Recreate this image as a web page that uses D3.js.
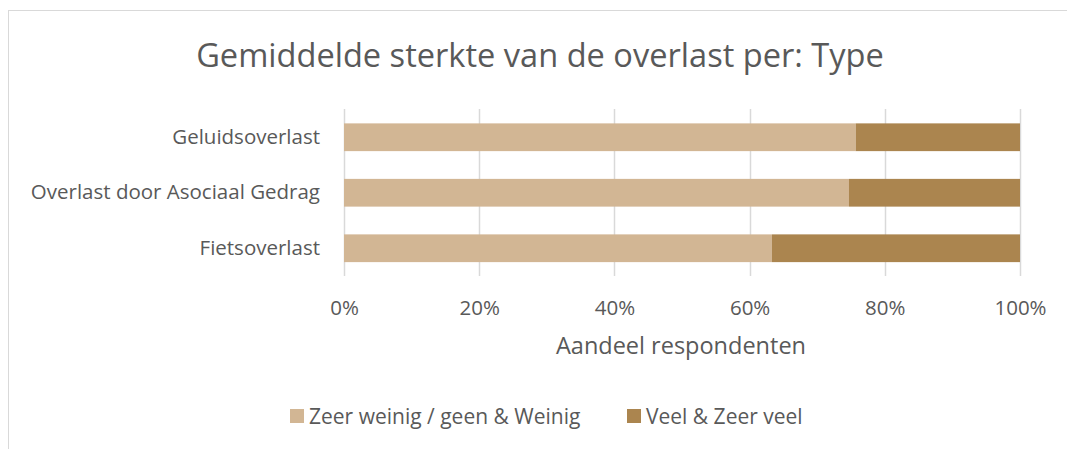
<!DOCTYPE html>
<html>
<head>
<meta charset="utf-8">
<script src="https://cdn.jsdelivr.net/npm/d3@7"></script>
<style>
    body { margin: 0; background: #fff; }
    text { font-family: "Open Sans", sans-serif; fill: #595959; }
</style>
</head>
<body>
<div id="chart"></div>
<script>
//Chart data
var categories = ["Geluidsoverlast", "Overlast door Asociaal Gedrag", "Fietsoverlast"];
var seriesNames = ["Zeer weinig / geen & Weinig", "Veel & Zeer veel"];
var lowValues = [0.757, 0.747, 0.633];
var highValues = [0.243, 0.253, 0.367];
var tickValues = [0, 0.2, 0.4, 0.6, 0.8, 1];
var colors = ["#D2B694", "#AB854F"];

function init() {
    var w = 1067;
    var h = 449;

    var svg = d3.select("#chart")
        .append("svg")
        .attr("width", w)
        .attr("height", h);

    //Chart border
    svg.append("rect")
        .attr("x", 8.5)
        .attr("y", 10.5)
        .attr("width", w + 10)
        .attr("height", h + 10)
        .attr("fill", "none")
        .attr("stroke", "#d9d9d9");

    var xScale = d3.scaleLinear()
        .domain([0, 1])
        .range([344, 1020]);

    var yScale = d3.scaleBand()
        .domain(categories)
        .range([109.5, 276])
        .paddingInner(0.5)
        .paddingOuter(0.25);

    //Gridlines
    svg.append("g")
        .selectAll("line")
        .data(tickValues)
        .enter()
        .append("line")
        .attr("x1", function (d) { return Math.round(xScale(d)) + 0.5; })
        .attr("x2", function (d) { return Math.round(xScale(d)) + 0.5; })
        .attr("y1", 109)
        .attr("y2", 276)
        .style("stroke", "#d9d9d9")
        .style("stroke-width", 1.5);

    //Stacked data
    var rows = categories.map(function (c, i) {
        return { cat: c, low: lowValues[i], high: highValues[i] };
    });
    var stack = d3.stack().keys(["low", "high"]);
    var layers = stack(rows);

    svg.append("g")
        .selectAll("g")
        .data(layers)
        .enter()
        .append("g")
        .attr("fill", function (d, i) { return colors[i]; })
        .selectAll("rect")
        .data(function (d) { return d; })
        .enter()
        .append("rect")
        .attr("x", function (d) { return xScale(d[0]); })
        .attr("width", function (d) { return xScale(d[1]) - xScale(d[0]); })
        .attr("y", function (d) { return yScale(d.data.cat); })
        .attr("height", yScale.bandwidth());

    //Axes
    var xAxis = d3.axisBottom(xScale)
        .tickValues(tickValues)
        .tickFormat(d3.format(".0%"))
        .tickSize(0)
        .tickPadding(24);

    var gx = svg.append("g")
        .attr("transform", "translate(0,276)")
        .call(xAxis);
    gx.select(".domain").remove();
    gx.selectAll("text")
        .style("font-size", "20.5px")
        .attr("fill", null);

    var yAxis = d3.axisLeft(yScale)
        .tickSize(0)
        .tickPadding(24);

    var gy = svg.append("g")
        .attr("transform", "translate(344,0)")
        .call(yAxis);
    gy.select(".domain").remove();
    gy.selectAll("text")
        .style("font-size", "20.5px")
        .attr("fill", null);

    //Title
    svg.append("text")
        .attr("x", 540)
        .attr("y", 67)
        .attr("text-anchor", "middle")
        .style("font-size", "32.6px")
        .text("Gemiddelde sterkte van de overlast per: Type");

    //Axis title
    svg.append("text")
        .attr("x", 681)
        .attr("y", 354)
        .attr("text-anchor", "middle")
        .style("font-size", "23.5px")
        .text("Aandeel respondenten");

    //Legend
    var legendX = [290, 627];
    var legend = svg.append("g")
        .selectAll("g")
        .data(seriesNames)
        .enter()
        .append("g")
        .attr("transform", function (d, i) { return "translate(" + legendX[i] + ",409)"; });

    legend.append("rect")
        .attr("width", 14)
        .attr("height", 14)
        .attr("fill", function (d, i) { return colors[i]; });

    legend.append("text")
        .attr("x", 19)
        .attr("y", 14.5)
        .style("font-size", "21px")
        .text(function (d) { return d; });
}

window.onload = init;
</script>
</body>
</html>
